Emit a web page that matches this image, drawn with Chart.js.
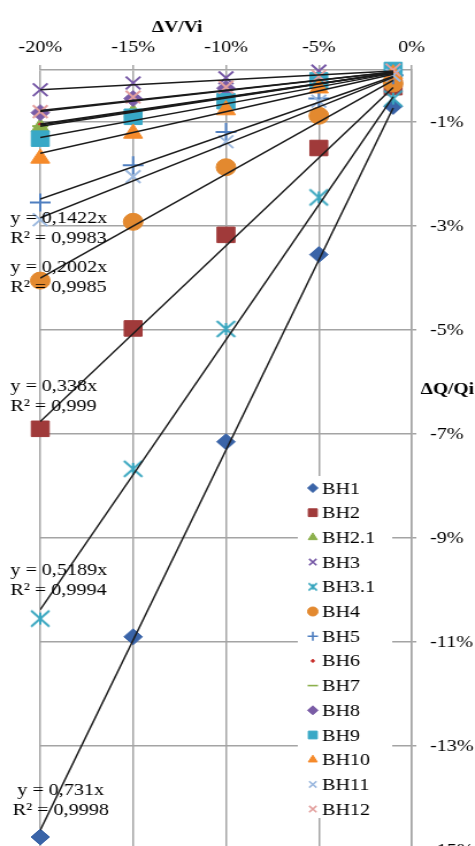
<!DOCTYPE html>
<html>
<head>
<meta charset="utf-8">
<script src="https://cdn.jsdelivr.net/npm/chart.js@4/dist/chart.umd.min.js"></script>
<style>
html, body { margin: 0; padding: 0; background: #fff; overflow: hidden; }
#wrap { width: 413px; height: 880px; transform: scaleX(1.15); transform-origin: 0 0; }
</style>
</head>
<body>
<div id="wrap"><canvas id="myChart" width="413" height="880"></canvas></div>
<script>
// x values (ΔV/Vi, %) shared by every series
const xValues = [-20, -15, -10, -5, -1];

const seriesNames = ['BH1', 'BH2', 'BH2.1', 'BH3', 'BH3.1', 'BH4', 'BH5',
    'BH6', 'BH7', 'BH8', 'BH9', 'BH10', 'BH11', 'BH12'];

// ΔQ/Qi (%) per series
const bh1   = [-14.75, -10.9, -7.15, -3.55, -0.7];
const bh2   = [-6.9, -4.97, -3.17, -1.5, -0.33];
const bh2_1 = [-1.1, -0.82, -0.55, -0.27, -0.05];
const bh3   = [-0.38, -0.25, -0.15, -0.02, 0];
const bh3_1 = [-10.55, -7.67, -4.98, -2.45, -0.55];
const bh4   = [-4.05, -2.92, -1.87, -0.88, -0.26];
const bh5   = [-2.55, -1.83, -1.19, -0.55, -0.1];
const bh6   = [-1.05, -0.8, -0.52, -0.26, -0.05];
const bh7   = [-1.08, -0.8, -0.53, -0.27, -0.05];
const bh8   = [-0.82, -0.55, -0.35, -0.17, -0.02];
const bh9   = [-1.32, -0.9, -0.6, -0.2, 0];
const bh10  = [-1.7, -1.22, -0.77, -0.35, -0.08];
const bh11  = [-2.88, -2.05, -1.38, -0.6, -0.1];
const bh12  = [-0.8, -0.52, -0.33, -0.12, 0];

// trendline slopes (y = kx)
const slopes = [0.731, 0.338, 0.053, 0.019, 0.5189, 0.2002, 0.124,
    0.052, 0.054, 0.039, 0.065, 0.08, 0.1422, 0.04];

// equation labels shown on the chart
const eqLabels = [
    ['y = 0,1422x', 'R² = 0,9983'],
    ['y = 0,2002x', 'R² = 0,9985'],
    ['y = 0,338x', 'R² = 0,999'],
    ['y = 0,5189x', 'R² = 0,9994'],
    ['y = 0,731x', 'R² = 0,9998']
];

const xTicks = [-20, -15, -10, -5, 0];
const yTicks = [-1, -3, -5, -7, -9, -11, -13, -15];

const allSeries = [bh1, bh2, bh2_1, bh3, bh3_1, bh4, bh5, bh6, bh7, bh8, bh9, bh10, bh11, bh12];

const FONT = '"Liberation Serif", "Times New Roman", serif';

// Excel style "star" marker: an X with a vertical bar
function starMarker(r, color, lw) {
    const c = document.createElement('canvas');
    const s = Math.ceil(r * 2 + lw * 2);
    c.width = s; c.height = s;
    const g = c.getContext('2d');
    const m = s / 2, d = r * 0.72;
    g.strokeStyle = color;
    g.lineWidth = lw;
    g.beginPath();
    g.moveTo(m - d, m - d); g.lineTo(m + d, m + d);
    g.moveTo(m + d, m - d); g.lineTo(m - d, m + d);
    g.moveTo(m, m - r * 0.55); g.lineTo(m, m + r * 0.55);
    g.stroke();
    return c;
}

// marker styles: [pointStyle, color, radius]
const markers = [
    ['rectRot', '#3a64a8', 8],
    ['rect', '#a03a3a', 11],
    ['triangle', '#8cb04c', 9],
    ['crossRot', '#7658a6', 9],
    ['star', '#38a6bf', 9],
    ['circle', '#e3892f', 8.5],
    ['cross', '#4f7fc0', 9],
    ['circle', '#c8302c', 1.6],
    ['line', '#8cb04c', 7],
    ['rectRot', '#7a5ca6', 8],
    ['rect', '#38a8c6', 11],
    ['triangle', '#f58a2a', 9.5],
    ['crossRot', '#9cb9df', 9],
    ['crossRot', '#e3a09e', 9]
];

function isStroked(style) {
    return style === 'cross' || style === 'crossRot' || style === 'star' || style === 'line';
}

const datasets = [];
seriesNames.forEach((name, i) => {
    const [style, color, r] = markers[i];
    datasets.push({
        label: name,
        data: xValues.map((x, j) => ({ x: x, y: allSeries[i][j] })),
        pointStyle: style === 'star' ? starMarker(r + 2, color, 2) : style,
        pointRadius: r,
        pointHoverRadius: r,
        pointBackgroundColor: color,
        pointBorderColor: color,
        pointBorderWidth: isStroked(style) ? 2 : 1,
        showLine: false,
        clip: false,
        order: seriesNames.length - i + 1
    });
});
// trendlines y = kx over the data range
seriesNames.forEach((name, i) => {
    const x0 = xValues[0], x1 = xValues[xValues.length - 1];
    datasets.push({
        label: 'trend ' + name,
        data: [{ x: x0, y: slopes[i] * x0 }, { x: x1, y: slopes[i] * x1 }],
        showLine: true,
        borderColor: '#1b1b1b',
        borderWidth: 1.5,
        pointRadius: 0,
        fill: false,
        order: 0
    });
});

// titles, equation labels and the boxed legend
const overlay = {
    id: 'overlay',
    afterDatasetsDraw(chart) {
        const ctx = chart.ctx;
        ctx.save();
        ctx.fillStyle = '#000';
        ctx.textBaseline = 'middle';
        ctx.textAlign = 'left';
        ctx.font = '17.5px ' + FONT;
        const spots = [[9, 218, 0], [9, 267, 0], [9, 386, 0], [9, 570, 0], [15, 790, -4]];
        eqLabels.forEach((lines, i) => {
            ctx.fillText(lines[0], spots[i][0], spots[i][1]);
            ctx.fillText(lines[1], spots[i][0] + spots[i][2], spots[i][1] + 20);
        });
        ctx.font = 'bold 17px ' + FONT;
        ctx.textAlign = 'center';
        ctx.fillText('ΔV/Vi', 154, 28);
        ctx.fillText('ΔQ/Qi', 389, 390);
        ctx.restore();
    },
    afterDraw(chart) {
        const ctx = chart.ctx;
        ctx.save();
        ctx.fillStyle = '#fff';
        ctx.fillRect(259, 476, 82, 342);
        ctx.font = '17.5px ' + FONT;
        ctx.textBaseline = 'middle';
        ctx.textAlign = 'left';
        seriesNames.forEach((name, i) => {
            const [style, color, r] = markers[i];
            const y = 488 + i * 24.7;
            ctx.fillStyle = color;
            ctx.strokeStyle = color;
            ctx.lineWidth = isStroked(style) ? 1.6 : 1;
            const rr = style === 'circle' && r < 3 ? 1.3 : (style === 'rect' ? 5.5 : 4.5);
            const ps = style === 'star' ? starMarker(5, color, 1.6) : style;
            Chart.helpers.drawPoint(ctx, { pointStyle: ps, radius: rr, borderWidth: ctx.lineWidth, rotation: 0 }, 272, y);
            ctx.fillStyle = '#000';
            ctx.fillText(name, 280, y + 1);
        });
        ctx.restore();
    }
};

const gridColor = '#a4a4a4';
const ctx = document.getElementById('myChart').getContext('2d');
const myChart = new Chart(ctx, {
    type: 'scatter',
    data: { datasets: datasets },
    options: {
        responsive: false,
        animation: false,
        layout: { padding: { left: 35, right: 0, top: 0, bottom: 30 } },
        scales: {
            x: {
                type: 'linear',
                position: 'top',
                min: -20,
                max: 0,
                afterBuildTicks: scale => { scale.ticks = xTicks.map(v => ({ value: v })); },
                afterFit: scale => { scale.height = 70; },
                ticks: {
                    callback: v => v + '%',
                    color: '#000',
                    padding: 7,
                    maxRotation: 0,
                    font: { family: FONT, size: 17.5 }
                },
                grid: { color: gridColor, lineWidth: 1.5, drawTicks: true, tickLength: 5 },
                border: { display: true, color: gridColor, width: 1.5 }
            },
            y: {
                type: 'linear',
                position: 'right',
                min: -15,
                max: 0,
                afterBuildTicks: scale => { scale.ticks = yTicks.map(v => ({ value: v })); },
                afterFit: scale => { scale.width = 55; },
                ticks: {
                    callback: v => v + '%',
                    color: '#000',
                    padding: 12,
                    font: { family: FONT, size: 17.5 }
                },
                grid: { color: gridColor, lineWidth: 1.5, drawTicks: true, tickLength: 4 },
                border: { display: true, color: gridColor, width: 1.5 }
            }
        },
        plugins: {
            legend: { display: false },
            tooltip: { enabled: false }
        }
    },
    plugins: [overlay]
});
</script>
</body>
</html>
